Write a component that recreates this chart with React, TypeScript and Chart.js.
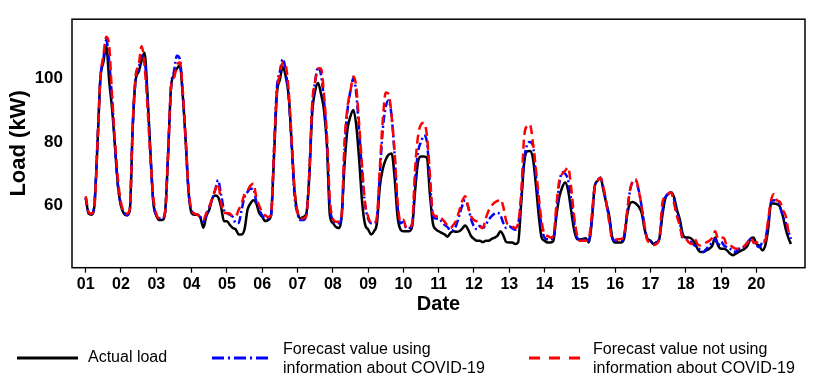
import { useEffect, useRef } from 'react';
import { Chart, registerables } from 'chart.js';

Chart.register(...registerables);

const DATE_LABELS = ['01', '02', '03', '04', '05', '06', '07', '08', '09', '10', '11', '12', '13', '14', '15', '16', '17', '18', '19', '20'];
const HOURS = [0, 2, 4, 6, 8, 10, 12, 14, 16, 18, 20, 22];
const END_HOUR = 23.5;
const Y_TICKS = [60, 80, 100];

// Actual load (kW), 2-hourly, day 01..20, plus final reading
const ACTUAL = [
  62.5, 57.5, 57.2, 60.5, 79, 100, 105, 110, 99, 90, 78, 66,
  60, 57.5, 57, 58.5, 85, 99.5, 102, 105.5, 108, 95, 77, 61,
  57, 55.5, 55.5, 58, 76, 97, 101, 103, 104, 94.5, 80, 64,
  57.7, 57.2, 57.2, 56.2, 53.1, 56.7, 58.7, 62.2, 63.2, 62.7, 59.7, 55.2,
  55.1, 54, 53, 52.6, 51, 51, 52.6, 58.7, 60.7, 61.7, 60.7, 57.7,
  56.5, 55.2, 55.5, 57, 75, 95, 99.5, 103.5, 100.5, 94.5, 80, 64.5,
  58, 56, 56.5, 57.5, 69, 89, 96, 98.5, 95, 90, 79, 57,
  54.6, 53.4, 53, 56.7, 73, 84, 88, 90, 85, 74, 60.7, 54,
  52.6, 51, 52, 54.5, 66, 71.5, 74.5, 76, 76.4, 69, 56.7, 52.6,
  52, 52, 52, 53.6, 64.8, 73.9, 75.4, 75.4, 75, 63.7, 54.6, 52.6,
  52, 51.5, 51, 50.3, 51.5, 52, 51.8, 52, 52.8, 53.8, 52.5, 50.5,
  49.6, 49, 49, 48.6, 49, 49, 49.6, 50, 50.6, 52, 50.6, 48.6,
  48.5, 48.5, 48, 48.5, 60, 73, 77, 77.2, 75, 67, 57, 50,
  49, 48.5, 48.5, 49, 56.7, 62.7, 65.8, 67.3, 64.8, 58.7, 52.6, 49.6,
  49.4, 49.6, 49.8, 48.5, 54.6, 65.8, 67.8, 68.8, 64.8, 60.7, 56.7, 50,
  48.5, 48.5, 48.5, 49.6, 56.7, 60.7, 61.2, 60.7, 59.7, 57.7, 52.6, 49.6,
  49, 48, 48.5, 49.6, 56.7, 62.2, 63.7, 64.2, 62.7, 58.7, 55.6, 51,
  50, 50, 49.6, 48.5, 46.5, 45.5, 45.5, 46, 46.5, 47.5, 50, 47.5,
  46.5, 46.5, 46, 45, 44.5, 45, 45.5, 46, 46.5, 47.5, 49.6, 50,
  48, 47.5, 46, 47.5, 52.6, 60.7, 60.7, 60.5, 59.7, 56.7, 52.6, 49.6,
  48,
];

// Forecast value using information about COVID-19
const FORECAST_COVID = [
  62.5, 58, 57.5, 61, 80, 100, 106, 112, 105, 93, 78, 66,
  60, 58, 57, 59, 85, 100, 103, 107, 106, 94, 76, 61,
  57, 56, 56, 58, 76, 97, 102, 107, 106, 95, 80, 64,
  58.5, 57.5, 57.2, 56.5, 55, 57, 59.5, 62, 64.8, 68, 63.7, 58.7,
  57.7, 57.2, 56.5, 54.6, 54.6, 58.7, 62.7, 64.3, 65.3, 65.3, 61.2, 58.7,
  57, 56, 56, 57, 77, 97, 102, 106, 102, 94, 79, 63,
  57.5, 55.5, 55.5, 57, 70, 91, 99, 103.5, 101, 93, 80, 60,
  55.5, 54.5, 54.5, 56.5, 78, 90, 96, 100, 95, 83, 70, 60,
  56, 54.5, 54.5, 56, 70, 84, 91, 93, 88, 76, 60, 54.5,
  55, 53, 53, 54.5, 68, 77, 80, 82, 80, 68, 57, 56,
  56, 55, 54, 53.3, 52.3, 52.3, 54, 57, 60, 61.7, 59.7, 55.8,
  53.5, 52.6, 53.6, 53, 54, 55.6, 56.7, 57.5, 57.7, 57, 54.5, 53,
  53.5, 53, 52.5, 54, 62, 74, 79, 80, 79, 70, 61, 53,
  50, 49.5, 49.5, 50, 58, 67, 70.5, 70, 68, 62, 55, 50,
  49.5, 49.5, 49.5, 49, 55, 65.5, 67.8, 68.8, 65.5, 60.7, 55.6, 50,
  49, 49, 49, 50.3, 57.5, 64.5, 67.5, 67.8, 64.8, 59.7, 53.6, 49.3,
  49, 48, 48.5, 49.6, 58, 62.5, 63.7, 64, 62, 57.7, 54.5, 50,
  49.6, 49, 48.5, 47.5, 47, 46, 45.5, 46.5, 47.5, 48.5, 49.6, 47.5,
  48.8, 47.5, 47, 46.5, 46, 45.5, 46.5, 46.5, 47.5, 48.5, 49.6, 48.5,
  47.5, 47, 48.5, 49.6, 54.6, 61.2, 61.7, 61.2, 59.7, 56.7, 54.6, 51.6,
  49.6,
];

// Forecast value not using information about COVID-19
const FORECAST_NO_COVID = [
  63, 58, 57.5, 60, 79, 100, 107, 113, 110, 94, 80, 68,
  61, 58, 57.5, 59, 86, 101, 104, 110, 104, 91, 75, 62.5,
  57.5, 56, 56, 58, 76, 97, 100, 104, 105, 96, 81, 65,
  58.7, 57.5, 57.2, 56.2, 55.6, 57.7, 59.7, 62.2, 65, 67, 61, 57.7,
  57.7, 57.5, 56.7, 56.7, 58.7, 60.7, 63.7, 64.8, 66.3, 67, 62.7, 60,
  58, 57, 56.5, 57, 77, 96, 101, 105, 104, 96, 81, 65,
  58, 56, 56, 56.7, 70, 92, 99, 103, 103, 95, 82, 62,
  56, 55, 55, 57, 80, 91, 96, 100.5, 97, 85, 72, 60.7,
  56.7, 54.5, 54.5, 56.5, 72, 87, 95.5, 95, 88, 77, 61.7, 55,
  55.6, 53, 53, 54.6, 72, 82, 85.5, 86, 82, 70, 57.7, 56.7,
  57, 56, 55, 53.8, 53, 54, 55.5, 58.5, 61.5, 63, 59.7, 56.7,
  55.5, 55, 53.5, 53, 56, 58.5, 60, 61, 61.5, 62, 59.5, 55,
  54, 53.5, 53, 54.5, 63, 81, 85, 85.5, 80, 72, 63, 55,
  51, 50.5, 50, 50.5, 60, 68, 70, 71, 72, 66, 57, 51,
  49, 49, 49, 49.5, 56.7, 65.8, 67.8, 68.8, 65.8, 60.7, 54.6, 49.6,
  49.3, 49.5, 49.6, 50.6, 57.7, 64.8, 67.8, 68.3, 64.8, 59.7, 53.6, 49,
  48.5, 47.7, 48, 49.6, 60.7, 62.7, 63.7, 64.2, 60.7, 56.7, 53.6, 49.6,
  49.6, 48.5, 48, 49.6, 48, 47.5, 48, 48.5, 49, 50, 52, 49.6,
  50, 49.8, 47.5, 47.5, 47, 46.5, 46.5, 46.5, 47.5, 48.5, 50, 48.5,
  48.5, 48.5, 48.5, 49, 55.6, 61.7, 63.7, 61.7, 61.2, 58.7, 56.7, 51.6,
  50.5,
];

const SERIES_NAMES = ['Actual load', 'Forecast value using\ninformation about COVID-19', 'Forecast value not using\ninformation about COVID-19'];

const FONT = "'Liberation Sans', Arial, Helvetica, sans-serif";

function buildX(): number[] {
  const xs: number[] = [];
  for (let d = 0; d < DATE_LABELS.length; d++) {
    for (const h of HOURS) xs.push(d + h / 24);
  }
  xs.push(DATE_LABELS.length - 1 + END_HOUR / 24);
  return xs;
}

const boxPlugin = {
  id: 'plotBox',
  afterDatasetsDraw(chart: any) {
    const { ctx, chartArea } = chart;
    ctx.save();
    ctx.strokeStyle = '#000';
    ctx.lineWidth = 1.5;
    ctx.strokeRect(chartArea.left, chartArea.top, chartArea.right - chartArea.left, chartArea.bottom - chartArea.top);
    ctx.restore();
  },
};

const legendPlugin = {
  id: 'bottomLegend',
  afterDraw(chart: any) {
    const ctx = chart.ctx as CanvasRenderingContext2D;
    const items = [
      { color: '#000000', dash: [] as number[], x1: 17, x2: 78, tx: 88 },
      { color: '#0000ff', dash: [12, 4, 2, 4], x1: 212, x2: 268, tx: 283 },
      { color: '#ff0000', dash: [11, 9], x1: 529, x2: 586, tx: 593 },
    ];
    const yMid = 358;
    ctx.save();
    items.forEach((it, i) => {
      ctx.beginPath();
      ctx.setLineDash(it.dash);
      ctx.strokeStyle = it.color;
      ctx.lineWidth = 3;
      ctx.moveTo(it.x1, yMid);
      ctx.lineTo(it.x2, yMid);
      ctx.stroke();
      ctx.setLineDash([]);
      ctx.fillStyle = '#000';
      ctx.font = `16px ${FONT}`;
      ctx.textAlign = 'left';
      ctx.textBaseline = 'middle';
      const lines = SERIES_NAMES[i].split('\n');
      if (lines.length === 1) {
        ctx.fillText(lines[0], it.tx, yMid);
      } else {
        ctx.fillText(lines[0], it.tx, yMid - 8);
        ctx.fillText(lines[1], it.tx, yMid + 11);
      }
    });
    ctx.restore();
  },
};

export default function App() {
  const ref = useRef<HTMLCanvasElement>(null);

  useEffect(() => {
    const xs = buildX();
    const mk = (arr: number[]) => xs.map((x, i) => ({ x, y: arr[i] }));
    const chart = new Chart(ref.current as HTMLCanvasElement, {
      type: 'line',
      data: {
        datasets: [
          {
            label: SERIES_NAMES[0],
            data: mk(ACTUAL),
            borderColor: '#000000',
            borderWidth: 2.5,
            pointRadius: 0,
            cubicInterpolationMode: 'monotone',
            order: 3,
          },
          {
            label: SERIES_NAMES[1],
            data: mk(FORECAST_COVID),
            borderColor: '#0000ff',
            borderWidth: 2.5,
            borderDash: [8, 3, 2, 3],
            pointRadius: 0,
            cubicInterpolationMode: 'monotone',
            order: 2,
          },
          {
            label: SERIES_NAMES[2],
            data: mk(FORECAST_NO_COVID),
            borderColor: '#ff0000',
            borderWidth: 2.5,
            borderDash: [9, 5],
            pointRadius: 0,
            cubicInterpolationMode: 'monotone',
            order: 1,
          },
        ],
      },
      options: {
        responsive: false,
        animation: false,
        devicePixelRatio: 1,
        layout: { padding: { left: 0, right: 12, top: 11, bottom: 63.3 } },
        plugins: { legend: { display: false }, tooltip: { enabled: false } },
        scales: {
          x: {
            type: 'linear',
            min: -0.388,
            max: 20.377,
            afterBuildTicks: (s: any) => {
              s.ticks = DATE_LABELS.map((_, i) => ({ value: i }));
            },
            afterFit: (s: any) => {
              s.height = 50;
            },
            grid: { display: true, drawOnChartArea: false, drawTicks: true, tickLength: 5, tickColor: '#000', tickWidth: 1.2 },
            border: { display: false },
            ticks: {
              autoSkip: false,
              maxRotation: 0,
              padding: 2,
              color: '#000',
              font: { family: FONT, size: 16, weight: 'bold' },
              callback: (v: any) => DATE_LABELS[Math.round(Number(v))] ?? '',
            },
            title: {
              display: true,
              text: 'Date',
              color: '#000',
              font: { family: FONT, size: 20, weight: 'bold' },
              padding: { top: 0, bottom: 1 },
            },
          },
          y: {
            min: 40.56,
            max: 118.5,
            afterBuildTicks: (s: any) => {
              s.ticks = Y_TICKS.map((v) => ({ value: v }));
            },
            afterFit: (s: any) => {
              s.width = 72;
            },
            grid: { display: false, drawTicks: false },
            border: { display: false },
            ticks: {
              padding: 9,
              color: '#000',
              font: { family: FONT, size: 17, weight: 'bold' },
            },
            title: {
              display: true,
              text: 'Load (kW)',
              color: '#000',
              font: { family: FONT, size: 22, weight: 'bold' },
              padding: { top: 6, bottom: 0 },
            },
          },
        },
      },
      plugins: [boxPlugin, legendPlugin],
    } as any);
    return () => chart.destroy();
  }, []);

  return (
    <div style={{ position: 'absolute', left: 0, top: 0, width: 817, height: 381, background: '#fff' }}>
      <canvas ref={ref} width={817} height={381} style={{ display: 'block', width: 817, height: 381 }} />
    </div>
  );
}
